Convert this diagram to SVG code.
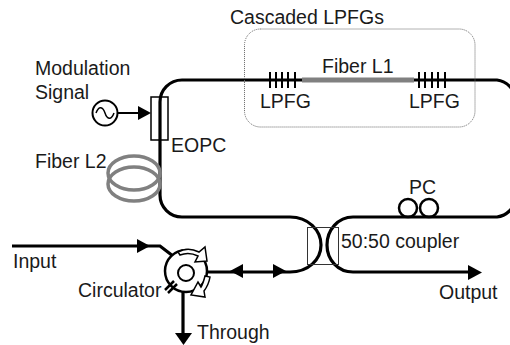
<svg xmlns="http://www.w3.org/2000/svg" width="510" height="345" viewBox="0 0 510 345">
<defs><style>
text{font-family:"Liberation Sans",Arial,sans-serif;font-size:19.5px;fill:#1a1a1a}
.f{fill:none;stroke:#000;stroke-width:3.200}
.g{fill:none;stroke:#808080;stroke-width:3.500}
.h{fill:#000;stroke:none}
.w{fill:#fff;stroke:#000;stroke-width:1.500}
</style></defs>
<rect width="510" height="345" fill="#fff"/>
<g id="connectors">
<path class="f" d="M516 100A22 22 0 0 0 497 80H182A22 22 0 0 0 160 102V195A22 22 0 0 0 182 217H290C308 217 321 230 321 245C321 260 308 272 290 272H208"/>
<path class="f" d="M516 198A22 22 0 0 1 497 217H353C338 217 327 230 327 245C327 260 338 272 353 272H470"/>
<path class="f" d="M12 246H160L173 256"/>
<path class="f" d="M183 292V335"/>
<path class="f" style="stroke-width:2" d="M118 113H140"/>
<path class="g" style="stroke-width:5" d="M302 80H414"/>
<path class="h" d="M138 106L151 113L138 120Z"/>
<path class="h" d="M137 239V253L150 246Z"/>
<path class="h" d="M230 271L243 264V278Z"/>
<path class="h" d="M273 264V278L286 271Z"/>
<path class="h" d="M175 333H192L183.500 345Z"/>
<path class="h" d="M468 265V280L482 272.500Z"/>
</g>
<g id="eopc"><rect x="151" y="97" width="17" height="43" fill="none" stroke="#000" stroke-width="1.500"/></g>
<g id="source"><circle cx="105" cy="113" r="12.500" fill="#fff" stroke="#000" stroke-width="2"/><path d="M96 113C99 105 103 107 105 113C107 119 111 121 114 113" fill="none" stroke="#000" stroke-width="1.500"/></g>
<g id="fiber-l2"><ellipse cx="134" cy="173" rx="26" ry="17" class="g"/><ellipse cx="134" cy="184" rx="26" ry="17" class="g"/></g>
<g id="cascaded-lpfgs"><rect x="244.500" y="29" width="230.500" height="98" rx="16" fill="none" stroke="#666" stroke-width="1" stroke-dasharray="1 1"/>
<path d="M270 72V88M276 72V88M282 72V88M288 72V88M295 72V88M419 72V88M425 72V88M432 72V88M438 72V88M445 72V88" stroke="#000" stroke-width="2"/></g>
<g id="coupler"><rect x="307.500" y="227.500" width="31" height="37" fill="none" stroke="#333" stroke-width="1"/></g>
<g id="pc"><circle cx="408" cy="208" r="9" fill="none" stroke="#000" stroke-width="2.500"/><circle cx="429" cy="208" r="9" fill="none" stroke="#000" stroke-width="2.500"/></g>
<g id="circulator"><circle cx="186" cy="271" r="21" fill="#fff" stroke="#000" stroke-width="2.500"/><circle cx="186" cy="273" r="8" fill="#fff" stroke="#000" stroke-width="2"/>
<path class="w" d="M178 252C185 248 193 249 199 252L205 247L207 261L195 262L198 256C192 253 185 253 180 255Z"/>
<path class="w" d="M205 276L210 277C209 283 207 287 204 291L205 297L191 295L198 282L201 287C203 284 204 280 205 276Z"/>
<path d="M165 290L174 281M168 293L177 284" stroke="#000" stroke-width="2.500"/></g>
<g id="labels">
<text x="230" y="24">Cascaded LPFGs</text><text x="322" y="73">Fiber L1</text><text x="260" y="108">LPFG</text><text x="409" y="108">LPFG</text>
<text x="35" y="75">Modulation</text><text x="35" y="99">Signal</text><text x="171" y="152">EOPC</text><text x="35" y="168">Fiber L2</text>
<text x="409" y="194">PC</text><text x="341" y="248">50:50 coupler</text><text x="13" y="268">Input</text><text x="78" y="297">Circulator</text><text x="197" y="339">Through</text><text x="439" y="299">Output</text>
</g>
</svg>
